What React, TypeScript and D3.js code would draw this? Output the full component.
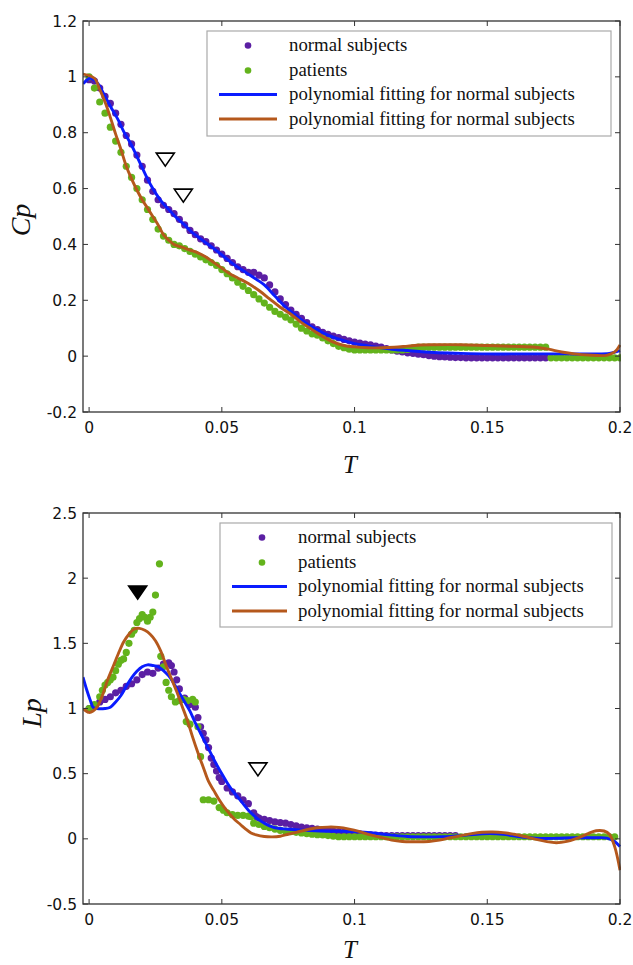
import React from "react";
import * as d3 from "d3";

// ---------- DATA ----------
const xTicks = [0, 0.05, 0.1, 0.15, 0.2];
const cpTicks = [-0.2, 0, 0.2, 0.4, 0.6, 0.8, 1, 1.2];
const lpTicks = [-0.5, 0, 0.5, 1, 1.5, 2, 2.5];

const legendLabels = [
  "normal subjects",
  "patients",
  "polynomial fitting for normal subjects",
  "polynomial fitting for normal subjects",
];

// Cp: normal subjects (scatter)
const cpNormal: [number, number][] = [
  [0.000,0.99],[0.002,0.985],[0.004,0.96],[0.006,0.93],[0.008,0.905],[0.010,0.87],[0.012,0.83],[0.014,0.79],
  [0.016,0.76],[0.018,0.72],[0.020,0.68],[0.022,0.63],[0.024,0.59],[0.026,0.56],[0.028,0.54],[0.030,0.525],
  [0.032,0.51],[0.034,0.49],[0.036,0.47],[0.038,0.45],[0.040,0.435],[0.042,0.42],[0.044,0.41],[0.046,0.395],
  [0.048,0.38],[0.050,0.365],[0.052,0.35],[0.054,0.335],[0.056,0.32],[0.058,0.31],[0.060,0.30],[0.062,0.30],
  [0.064,0.29],[0.066,0.28],[0.068,0.255],[0.070,0.23],[0.072,0.205],[0.074,0.185],[0.076,0.165],[0.078,0.15],
  [0.080,0.135],[0.082,0.12],[0.084,0.105],[0.086,0.095],[0.088,0.085],[0.090,0.078],[0.092,0.072],[0.094,0.066],
  [0.096,0.06],[0.098,0.055],[0.100,0.05],[0.102,0.047],[0.104,0.043],[0.106,0.04],[0.108,0.036],[0.110,0.032],
  [0.112,0.027],[0.114,0.022],[0.116,0.018],[0.118,0.015],[0.120,0.012],[0.122,0.01],[0.124,0.007],[0.126,0.005],
  [0.128,0.002],[0.130,0.0],[0.132,-0.002],[0.134,-0.003],[0.136,-0.004],[0.138,-0.005],[0.140,-0.005],[0.142,-0.006],
  [0.144,-0.006],[0.146,-0.006],[0.148,-0.006],[0.150,-0.006],[0.152,-0.006],[0.154,-0.006],[0.156,-0.006],[0.158,-0.006],
  [0.160,-0.006],[0.162,-0.006],[0.164,-0.006],[0.166,-0.006],[0.168,-0.006],[0.170,-0.006],[0.172,-0.006],
];

// Cp: patients (scatter)
const cpPatient: [number, number][] = [
  [0.000,1.00],[0.002,0.96],[0.004,0.91],[0.006,0.87],[0.008,0.82],[0.010,0.77],[0.012,0.73],[0.014,0.68],
  [0.016,0.64],[0.018,0.60],[0.020,0.56],[0.022,0.525],[0.024,0.49],[0.026,0.455],[0.028,0.43],[0.030,0.415],
  [0.032,0.40],[0.034,0.395],[0.036,0.385],[0.038,0.375],[0.040,0.365],[0.042,0.355],[0.044,0.345],[0.046,0.335],
  [0.048,0.325],[0.050,0.31],[0.052,0.295],[0.054,0.28],[0.056,0.265],[0.058,0.25],[0.060,0.235],[0.062,0.22],
  [0.064,0.205],[0.066,0.19],[0.068,0.175],[0.070,0.16],[0.072,0.15],[0.074,0.14],[0.076,0.13],[0.078,0.115],
  [0.080,0.10],[0.082,0.09],[0.084,0.08],[0.086,0.075],[0.088,0.065],[0.090,0.055],[0.092,0.045],[0.094,0.035],
  [0.096,0.03],[0.098,0.025],[0.100,0.022],[0.102,0.022],[0.104,0.022],[0.106,0.022],[0.108,0.022],[0.110,0.022],
  [0.112,0.022],[0.114,0.022],[0.116,0.022],[0.118,0.022],[0.120,0.024],[0.122,0.03],[0.124,0.032],[0.126,0.032],
  [0.128,0.032],[0.130,0.032],[0.132,0.032],[0.134,0.032],[0.136,0.032],[0.138,0.032],[0.140,0.032],[0.142,0.032],
  [0.144,0.032],[0.146,0.032],[0.148,0.032],[0.150,0.032],[0.152,0.032],[0.154,0.032],[0.156,0.032],[0.158,0.032],
  [0.160,0.032],[0.162,0.032],[0.164,0.032],[0.166,0.032],[0.168,0.032],[0.170,0.032],[0.172,0.032],[0.174,-0.006],
  [0.176,-0.006],[0.178,-0.006],[0.180,-0.006],[0.182,-0.006],[0.184,-0.006],[0.186,-0.006],[0.188,-0.006],[0.190,-0.006],
  [0.192,-0.006],[0.194,-0.006],[0.196,-0.006],[0.198,-0.006],[0.200,-0.006],
];

// Cp: polynomial fit (normal)
const cpNormalFit: [number, number][] = [
  [-0.0023,0.975],[0.0005,0.995],[0.003,0.98],[0.006,0.93],[0.008,0.895],[0.011,0.845],[0.013,0.805],[0.016,0.755],
  [0.018,0.715],[0.020,0.675],[0.022,0.635],[0.024,0.60],[0.026,0.57],[0.028,0.545],[0.030,0.525],[0.033,0.495],
  [0.036,0.47],[0.038,0.45],[0.042,0.42],[0.047,0.385],[0.051,0.355],[0.055,0.325],[0.059,0.30],[0.063,0.275],
  [0.066,0.255],[0.070,0.215],[0.073,0.185],[0.076,0.16],[0.080,0.13],[0.083,0.11],[0.086,0.095],[0.090,0.075],
  [0.095,0.058],[0.100,0.045],[0.105,0.037],[0.110,0.03],[0.115,0.024],[0.120,0.02],[0.130,0.013],[0.140,0.01],
  [0.150,0.008],[0.160,0.008],[0.170,0.008],[0.180,0.008],[0.190,0.008],[0.196,0.01],[0.200,0.02],
];

// Cp: polynomial fit (patients)
const cpPatientFit: [number, number][] = [
  [-0.0023,1.01],[0.002,0.995],[0.004,0.955],[0.006,0.91],[0.008,0.855],[0.010,0.795],[0.012,0.74],[0.014,0.68],
  [0.016,0.635],[0.018,0.595],[0.020,0.56],[0.022,0.53],[0.024,0.50],[0.026,0.47],[0.028,0.435],[0.030,0.415],
  [0.032,0.40],[0.035,0.39],[0.038,0.38],[0.041,0.37],[0.044,0.355],[0.047,0.335],[0.050,0.315],[0.053,0.295],
  [0.056,0.28],[0.060,0.26],[0.064,0.235],[0.068,0.205],[0.072,0.175],[0.076,0.15],[0.080,0.12],[0.084,0.095],
  [0.088,0.07],[0.092,0.05],[0.096,0.038],[0.100,0.033],[0.105,0.03],[0.110,0.03],[0.115,0.032],[0.120,0.036],
  [0.125,0.04],[0.130,0.041],[0.140,0.041],[0.150,0.038],[0.160,0.035],[0.168,0.032],[0.173,0.025],[0.178,0.015],
  [0.183,0.008],[0.188,0.004],[0.195,0.003],[0.198,0.015],[0.200,0.04],
];

// Lp: normal subjects (scatter)
const lpNormal: [number, number][] = [
  [0.000,1.00],[0.002,1.02],[0.004,1.05],[0.006,1.07],[0.008,1.09],[0.010,1.12],[0.012,1.14],[0.014,1.17],
  [0.016,1.19],[0.018,1.22],[0.020,1.26],[0.022,1.28],[0.024,1.27],[0.026,1.31],[0.028,1.34],[0.030,1.35],
  [0.031,1.33],[0.032,1.28],[0.033,1.22],[0.034,1.15],[0.036,1.08],[0.038,1.03],[0.040,1.01],[0.041,0.93],
  [0.042,0.86],[0.043,0.81],[0.044,0.76],[0.045,0.70],[0.046,0.62],[0.047,0.57],[0.048,0.52],[0.049,0.47],
  [0.050,0.44],[0.052,0.39],[0.054,0.36],[0.056,0.33],[0.058,0.30],[0.060,0.27],[0.062,0.20],[0.063,0.17],
  [0.064,0.16],[0.066,0.15],[0.068,0.14],[0.070,0.13],[0.072,0.125],[0.074,0.12],[0.076,0.11],[0.078,0.10],
  [0.080,0.09],[0.082,0.085],[0.084,0.08],[0.086,0.075],[0.088,0.07],[0.090,0.065],[0.092,0.06],[0.094,0.055],
  [0.096,0.05],[0.098,0.045],[0.100,0.04],[0.102,0.036],[0.104,0.033],[0.106,0.03],[0.108,0.028],[0.110,0.026],
  [0.112,0.025],[0.114,0.025],[0.116,0.025],[0.118,0.025],[0.120,0.025],[0.122,0.025],[0.124,0.025],[0.126,0.025],
  [0.128,0.025],[0.130,0.025],[0.132,0.025],[0.134,0.025],[0.136,0.025],[0.138,0.025],
];

// Lp: patients (scatter)
const lpPatient: [number, number][] = [
  [0.000,1.00],[0.002,1.03],[0.004,1.09],[0.005,1.14],[0.006,1.18],[0.007,1.20],[0.008,1.22],[0.009,1.24],
  [0.010,1.29],[0.011,1.34],[0.012,1.37],[0.013,1.38],[0.014,1.43],[0.015,1.50],[0.016,1.57],[0.017,1.60],
  [0.018,1.66],[0.019,1.69],[0.020,1.72],[0.021,1.70],[0.022,1.67],[0.023,1.70],[0.024,1.74],[0.025,1.87],
  [0.0265,2.11],[0.027,1.40],[0.028,1.32],[0.029,1.20],[0.030,1.14],[0.031,1.09],[0.0325,1.05],[0.034,1.06],
  [0.0355,1.07],[0.037,1.06],[0.039,1.07],[0.040,1.05],[0.0366,0.90],[0.038,0.88],[0.041,0.86],[0.042,0.63],
  [0.043,0.30],[0.045,0.30],[0.047,0.29],[0.049,0.24],[0.0506,0.22],[0.052,0.20],[0.054,0.185],[0.056,0.18],
  [0.058,0.18],[0.060,0.175],[0.061,0.17],[0.062,0.12],[0.064,0.11],[0.066,0.095],[0.068,0.085],[0.070,0.075],
  [0.072,0.065],[0.074,0.06],[0.076,0.055],[0.078,0.05],[0.080,0.045],[0.082,0.04],[0.084,0.035],[0.086,0.032],
  [0.088,0.03],[0.090,0.025],[0.092,0.02],[0.094,0.016],[0.096,0.016],[0.098,0.016],[0.100,0.016],[0.102,0.016],
  [0.104,0.016],[0.106,0.016],[0.108,0.016],[0.110,0.016],[0.112,0.016],[0.114,0.016],[0.116,0.016],[0.118,0.016],
  [0.120,0.016],[0.122,0.016],[0.124,0.016],[0.126,0.016],[0.128,0.016],[0.130,0.016],[0.132,0.016],[0.134,0.016],
  [0.136,0.016],[0.138,0.016],[0.140,0.016],[0.142,0.016],[0.144,0.016],[0.146,0.016],[0.148,0.016],[0.150,0.016],
  [0.152,0.016],[0.154,0.016],[0.156,0.016],[0.158,0.016],[0.160,0.016],[0.162,0.016],[0.164,0.016],[0.166,0.016],
  [0.168,0.016],[0.170,0.016],[0.172,0.016],[0.174,0.016],[0.176,0.016],[0.178,0.016],[0.180,0.016],[0.182,0.016],
  [0.184,0.016],[0.186,0.016],[0.188,0.016],[0.190,0.016],[0.192,0.016],[0.194,0.016],[0.196,0.016],[0.198,0.016],
];

// Lp: polynomial fit (normal)
const lpNormalFit: [number, number][] = [
  [-0.0023,1.24],[-0.001,1.15],[0.0005,1.06],[0.0015,1.01],[0.003,1.0],[0.006,1.0],[0.008,1.01],[0.010,1.05],
  [0.012,1.10],[0.014,1.17],[0.016,1.235],[0.018,1.285],[0.020,1.32],[0.022,1.335],[0.024,1.33],[0.026,1.32],
  [0.028,1.29],[0.030,1.25],[0.032,1.19],[0.034,1.12],[0.036,1.05],[0.038,0.98],[0.040,0.89],[0.042,0.81],
  [0.044,0.73],[0.046,0.65],[0.048,0.57],[0.050,0.50],[0.052,0.43],[0.054,0.37],[0.056,0.32],[0.058,0.27],
  [0.060,0.22],[0.062,0.18],[0.064,0.145],[0.066,0.12],[0.068,0.10],[0.070,0.085],[0.074,0.075],[0.078,0.07],
  [0.082,0.065],[0.087,0.06],[0.095,0.058],[0.100,0.055],[0.107,0.045],[0.113,0.03],[0.120,0.018],[0.127,0.015],
  [0.133,0.017],[0.140,0.025],[0.146,0.035],[0.151,0.04],[0.156,0.035],[0.1615,0.018],[0.166,0.008],[0.170,0.003],
  [0.176,0.004],[0.183,0.008],[0.190,0.008],[0.195,0.006],[0.198,-0.02],[0.200,-0.06],
];

// Lp: polynomial fit (patients)
const lpPatientFit: [number, number][] = [
  [-0.0023,1.0],[0.000,0.97],[0.0015,0.98],[0.003,1.01],[0.005,1.10],[0.007,1.22],[0.009,1.32],[0.011,1.42],
  [0.013,1.51],[0.015,1.57],[0.017,1.61],[0.019,1.615],[0.021,1.60],[0.023,1.57],[0.025,1.52],[0.027,1.44],
  [0.029,1.33],[0.031,1.23],[0.033,1.13],[0.035,1.02],[0.037,0.91],[0.039,0.78],[0.041,0.66],[0.043,0.55],
  [0.045,0.44],[0.047,0.37],[0.049,0.30],[0.051,0.24],[0.053,0.19],[0.055,0.145],[0.057,0.11],[0.059,0.075],
  [0.061,0.045],[0.063,0.03],[0.066,0.018],[0.069,0.015],[0.072,0.02],[0.075,0.035],[0.078,0.05],[0.082,0.07],
  [0.086,0.085],[0.090,0.09],[0.094,0.088],[0.098,0.075],[0.102,0.055],[0.106,0.03],[0.110,0.01],[0.114,-0.01],
  [0.118,-0.02],[0.122,-0.022],[0.128,-0.02],[0.132,-0.01],[0.136,0.008],[0.140,0.025],[0.144,0.04],[0.148,0.05],
  [0.152,0.052],[0.156,0.048],[0.160,0.035],[0.164,0.018],[0.168,-0.002],[0.172,-0.02],[0.176,-0.03],[0.180,-0.02],
  [0.184,0.005],[0.188,0.04],[0.191,0.062],[0.194,0.06],[0.196,0.035],[0.198,-0.06],[0.200,-0.24],
];

// triangle annotations [T, value at triangle top, filled]
const cpMarkers: [number, number, boolean][] = [[0.0287, 0.727, false], [0.0355, 0.598, false]];
const lpMarkers: [number, number, boolean][] = [[0.0183, 1.94, true], [0.0636, 0.583, false]];

// ---------- STYLE ----------
const C_NORMAL = "#5b1fa3";
const C_PATIENT = "#63b31c";
const C_NFIT = "#0a1cff";
const C_PFIT = "#b5581c";

const W = 633, H = 965;
const X0 = 83, X1 = 620;
const TICK_FONT = "DejaVu Sans, sans-serif";
const SERIF = "Liberation Serif, Times New Roman, serif";

type PanelProps = {
  top: number; bottom: number; yDomain: [number, number]; yTicks: number[];
  normal: [number, number][]; patient: [number, number][];
  nFit: [number, number][]; pFit: [number, number][];
  markers: [number, number, boolean][];
  yLabel: [string, string]; yLabelX: number; yLabelY: number; tLabelY: number;
  legend: { x0: number; x1: number; y0: number; y1: number; rows: number[]; dotX: number; lineX0: number; lineX1: number; textX: number };
};

function fmt(v: number) {
  return String(Math.round(v * 100) / 100);
}

function Panel(p: PanelProps) {
  const x = d3.scaleLinear().domain([-0.0023, 0.2]).range([X0, X1]);
  const y = d3.scaleLinear().domain(p.yDomain).range([p.bottom, p.top]);
  const line = d3.line<[number, number]>().x(d => x(d[0])).y(d => y(d[1])).curve(d3.curveCatmullRom.alpha(0.5));
  const r = 3.6;
  const tl = 5;
  const L = p.legend;
  return (
    <g>
      <defs>
        <clipPath id={"clip" + p.top}>
          <rect x={X0} y={p.top} width={X1 - X0 + 1} height={p.bottom - p.top} />
        </clipPath>
      </defs>
      <g clipPath={`url(#clip${p.top})`}>
        {p.normal.map((d, i) => <circle key={"n" + i} cx={x(d[0])} cy={y(d[1])} r={r} fill={C_NORMAL} />)}
        {p.patient.map((d, i) => <circle key={"p" + i} cx={x(d[0])} cy={y(d[1])} r={r} fill={C_PATIENT} />)}
        <path d={line(p.nFit) || ""} fill="none" stroke={C_NFIT} strokeWidth={2.9} />
        <path d={line(p.pFit) || ""} fill="none" stroke={C_PFIT} strokeWidth={2.9} />
      </g>
      {p.markers.map((m, i) => {
        const cx = x(m[0]), ty = y(m[1]);
        const w = 9, h = 13;
        return <path key={"m" + i} d={`M${cx - w},${ty} L${cx + w},${ty} L${cx},${ty + h} Z`}
          fill={m[2] ? "#000" : "#fff"} stroke="#000" strokeWidth={1.6} strokeLinejoin="miter" />;
      })}
      {/* frame */}
      <rect x={X0} y={p.top} width={X1 - X0} height={p.bottom - p.top} fill="none" stroke="#333" strokeWidth={1.3} />
      {xTicks.map((t, i) => (
        <g key={"xt" + i}>
          <line x1={x(t)} x2={x(t)} y1={p.bottom} y2={p.bottom - tl} stroke="#333" strokeWidth={1} />
          <line x1={x(t)} x2={x(t)} y1={p.top} y2={p.top + tl} stroke="#333" strokeWidth={1} />
          <text x={x(t)} y={p.bottom + 21} textAnchor="middle" fontFamily={TICK_FONT} fontSize={15.5} fill="#111">{fmt(t)}</text>
        </g>
      ))}
      {p.yTicks.map((t, i) => (
        <g key={"yt" + i}>
          <line x1={X0} x2={X0 + tl} y1={y(t)} y2={y(t)} stroke="#333" strokeWidth={1} />
          <line x1={X1} x2={X1 - tl} y1={y(t)} y2={y(t)} stroke="#333" strokeWidth={1} />
          <text x={X0 - 6} y={y(t)} dy="0.36em" textAnchor="end" fontFamily={TICK_FONT} fontSize={15.5} fill="#111">{fmt(t)}</text>
        </g>
      ))}
      {/* axis labels */}
      <text x={350} y={p.tLabelY} textAnchor="middle" fontFamily={SERIF} fontStyle="italic" fontSize={25} fill="#111">T</text>
      <text transform={`translate(${p.yLabelX},${p.yLabelY}) rotate(-90)`} textAnchor="middle" fontFamily={SERIF} fontStyle="italic" fontSize={28} fill="#111">
        {p.yLabel[0]}<tspan>{p.yLabel[1]}</tspan>
      </text>
      {/* legend */}
      <rect x={L.x0} y={L.y0} width={L.x1 - L.x0} height={L.y1 - L.y0} fill="#fff" stroke="#aaa" strokeWidth={1.2} />
      {legendLabels.map((lab, i) => (
        <g key={"lg" + i}>
          {i === 0 && <circle cx={L.dotX} cy={L.rows[i]} r={3.3} fill={C_NORMAL} />}
          {i === 1 && <circle cx={L.dotX} cy={L.rows[i]} r={3.3} fill={C_PATIENT} />}
          {i === 2 && <line x1={L.lineX0} x2={L.lineX1} y1={L.rows[i]} y2={L.rows[i]} stroke={C_NFIT} strokeWidth={2.8} />}
          {i === 3 && <line x1={L.lineX0} x2={L.lineX1} y1={L.rows[i]} y2={L.rows[i]} stroke={C_PFIT} strokeWidth={2.8} />}
          <text x={L.textX} y={L.rows[i] + 5.5} fontFamily={SERIF} fontSize={18.8} fill="#111">{lab}</text>
        </g>
      ))}
    </g>
  );
}

export default function App() {
  return (
    <svg width={W} height={H} style={{ position: "absolute", left: 0, top: 0, background: "#fff" }}>
      <rect x={0} y={0} width={W} height={H} fill="#fff" />
      <Panel top={21} bottom={412} yDomain={[-0.2, 1.2]} yTicks={cpTicks}
        normal={cpNormal} patient={cpPatient} nFit={cpNormalFit} pFit={cpPatientFit}
        markers={cpMarkers} yLabel={["C", "p"]} yLabelX={30} yLabelY={220} tLabelY={473}
        legend={{ x0: 207, x1: 611, y0: 31, y1: 136, rows: [45.5, 70.5, 94.5, 119], dotX: 248, lineX0: 219, lineX1: 277, textX: 289 }} />
      <Panel top={513} bottom={904} yDomain={[-0.5, 2.5]} yTicks={lpTicks}
        normal={lpNormal} patient={lpPatient} nFit={lpNormalFit} pFit={lpPatientFit}
        markers={lpMarkers} yLabel={["L", "p"]} yLabelX={41} yLabelY={713} tLabelY={958}
        legend={{ x0: 220, x1: 612, y0: 523, y1: 627, rows: [537.5, 562.5, 586.5, 611], dotX: 262, lineX0: 232, lineX1: 287, textX: 298 }} />
    </svg>
  );
}
